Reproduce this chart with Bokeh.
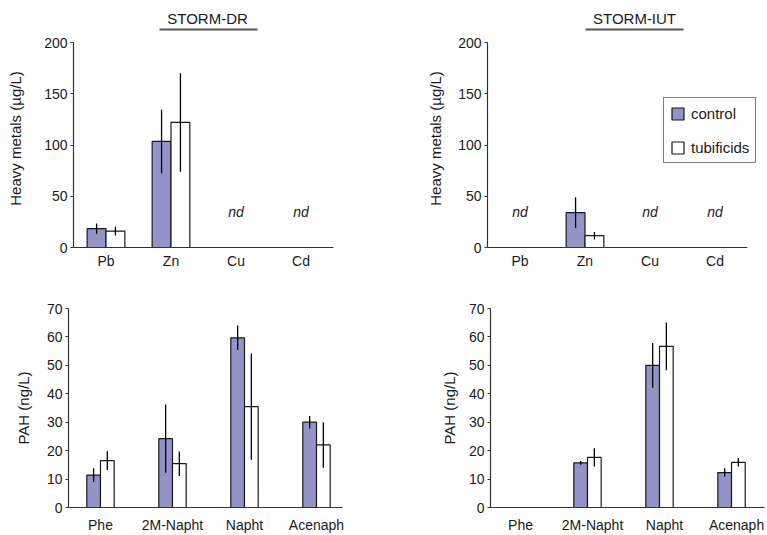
from bokeh.plotting import figure
from bokeh.models import (ColumnDataSource, Range1d, FixedTicker, LinearAxis,
                          Legend, LegendItem)
from bokeh.layouts import column, row
from bokeh.embed import file_html
from bokeh.resources import INLINE
from bokeh.core.properties import value

# ---------------- data ----------------
metals = ["Pb", "Zn", "Cu", "Cd"]
pahs = ["Phe", "2M-Napht", "Napht", "Acenaph"]
series_names = ["control", "tubificids"]

dr_metal_control = [18.5, 103.5, None, None]
dr_metal_control_err = [5.0, 31.0, None, None]
dr_metal_tub = [16.0, 122.0, None, None]
dr_metal_tub_err = [4.3, 48.0, None, None]
dr_metal_nd = ["Cu", "Cd"]

iut_metal_control = [None, 34.0, None, None]
iut_metal_control_err = [None, 15.0, None, None]
iut_metal_tub = [None, 11.5, None, None]
iut_metal_tub_err = [None, 3.7, None, None]
iut_metal_nd = ["Pb", "Cu", "Cd"]

dr_pah_control = [11.4, 24.2, 59.7, 30.0]
dr_pah_control_err = [2.4, 12.0, 4.3, 2.2]
dr_pah_tub = [16.5, 15.4, 35.5, 22.0]
dr_pah_tub_err = [3.3, 4.3, 18.7, 8.0]

iut_pah_control = [None, 15.7, 50.0, 12.3]
iut_pah_control_err = [None, 0.7, 7.9, 1.5]
iut_pah_tub = [None, 17.6, 56.7, 15.9]
iut_pah_tub_err = [None, 3.2, 8.4, 1.5]

metal_ticks = [0, 50, 100, 150, 200]
pah_ticks = [0, 10, 20, 30, 40, 50, 60, 70]

site_titles = ["STORM-DR", "STORM-IUT"]
metal_label = "Heavy metals (µg/L)"
pah_label = "PAH (ng/L)"

# ---------------- style ----------------
FONT = "Liberation Sans"
CTRL_FILL = "#9393C8"
BAR_LINE = "#1a1a1a"
AXIS_COL = "#333333"
TEXT_COL = "#1a1a1a"


def src_for(vals, errs, offset):
    xs, tops, lo, hi = [], [], [], []
    for i, (v, e) in enumerate(zip(vals, errs)):
        if v is None:
            continue
        xs.append(i + offset)
        tops.append(v)
        lo.append(v - e)
        hi.append(v + e)
    return ColumnDataSource(dict(x=xs, top=tops, lo=lo, hi=hi))


def panel(cats, ctrl, ctrl_err, tub, tub_err, ticks, ylabel, *, width, height,
          borders, xr, yend, bar_w, label_standoff, xlabel_standoff,
          label_shift=0.0, nd=None, nd_y=35, title=None, title_x=None,
          title_bounds=None, legend_loc=None):
    bl, br, bt, bb = borders
    p = figure(width=width, height=height, x_range=Range1d(*xr),
               y_range=Range1d(0, yend), output_backend="svg",
               toolbar_location=None, min_border_left=bl, min_border_right=br,
               min_border_top=bt, min_border_bottom=bb)
    p.outline_line_color = None
    p.xgrid.visible = False
    p.ygrid.visible = False
    p.background_fill_color = "white"
    p.border_fill_color = "white"

    s_c = src_for(ctrl, ctrl_err, -bar_w / 2)
    s_t = src_for(tub, tub_err, bar_w / 2)
    r_c = p.vbar(x="x", top="top", bottom=0, width=bar_w, source=s_c,
                 fill_color=CTRL_FILL, line_color=BAR_LINE, line_width=1.2)
    r_t = p.vbar(x="x", top="top", bottom=0, width=bar_w, source=s_t,
                 fill_color="white", line_color=BAR_LINE, line_width=1.2)
    for s in (s_c, s_t):
        p.segment(x0="x", y0="lo", x1="x", y1="hi", source=s,
                  line_color="black", line_width=1.3)

    if nd:
        p.text(x=[cats.index(c) for c in nd], y=[nd_y] * len(nd),
               text=["nd"] * len(nd), text_font=value(FONT),
               text_font_size="14px", text_font_style="italic",
               text_align="center", text_baseline="middle",
               text_color=TEXT_COL)

    # x axis
    xa = p.xaxis[0]
    tick_pos = [i + label_shift for i in range(len(cats))]
    xa.ticker = FixedTicker(ticks=tick_pos)
    xa.major_label_overrides = {t: c for t, c in zip(tick_pos, cats)}
    n = len(cats)
    xa.bounds = (-0.5, n - 0.5) if legend_loc is not None else (xr[0], xr[1])
    xa.major_tick_out = 0
    xa.major_tick_in = 0
    xa.minor_tick_out = 0
    xa.minor_tick_in = 0
    xa.axis_line_color = AXIS_COL
    xa.axis_line_width = 1.2
    xa.major_label_standoff = xlabel_standoff
    xa.major_label_text_font = FONT
    xa.major_label_text_font_size = "14px"
    xa.major_label_text_color = TEXT_COL

    # y axis
    ya = p.yaxis[0]
    ya.ticker = FixedTicker(ticks=ticks)
    ya.bounds = (0, ticks[-1])
    ya.major_tick_out = 3
    ya.major_tick_in = 0
    ya.minor_tick_out = 0
    ya.minor_tick_in = 0
    ya.axis_line_color = AXIS_COL
    ya.axis_line_width = 1.2
    ya.major_tick_line_color = AXIS_COL
    ya.major_label_standoff = 3
    ya.major_label_text_font = FONT
    ya.major_label_text_font_size = "14px"
    ya.major_label_text_color = TEXT_COL
    ya.axis_label = ylabel
    ya.axis_label_text_font = FONT
    ya.axis_label_text_font_size = "15px"
    ya.axis_label_text_font_style = "normal"
    ya.axis_label_text_color = TEXT_COL
    ya.axis_label_standoff = label_standoff

    if title:
        ta = LinearAxis(ticker=FixedTicker(ticks=[title_x]),
                        major_label_overrides={title_x: title},
                        bounds=title_bounds,
                        major_tick_out=0, major_tick_in=0,
                        minor_tick_out=0, minor_tick_in=0,
                        axis_line_width=2, axis_line_color="#555555",
                        major_label_standoff=3,
                        major_label_text_font=FONT,
                        major_label_text_font_size="15px",
                        major_label_text_color=TEXT_COL)
        p.add_layout(ta, "above")

    if legend_loc is not None:
        leg = Legend(items=[LegendItem(label=series_names[0], renderers=[r_c]),
                            LegendItem(label=series_names[1], renderers=[r_t])],
                     location=legend_loc, orientation="vertical",
                     glyph_width=15, glyph_height=15, label_height=18,
                     label_standoff=6, padding=6, spacing=16, margin=0,
                     label_text_font=FONT, label_text_font_size="15px",
                     label_text_color=TEXT_COL,
                     border_line_color="black", border_line_width=1.2,
                     background_fill_color="white", background_fill_alpha=1)
        p.add_layout(leg)
    return p


tl = panel(metals, dr_metal_control, dr_metal_control_err, dr_metal_tub,
           dr_metal_tub_err, metal_ticks, metal_label,
           width=383, height=272, borders=(73, 50, 29, 25),
           xr=(-0.5, 3.5), yend=212.7, bar_w=0.29, label_standoff=17,
           xlabel_standoff=5, nd=dr_metal_nd,
           title=site_titles[0], title_x=1.562, title_bounds=(0.823, 2.331))

tr = panel(metals, iut_metal_control, iut_metal_control_err, iut_metal_tub,
           iut_metal_tub_err, metal_ticks, metal_label,
           width=384, height=272, borders=(104, 10, 29, 25),
           xr=(-0.5, 3.654), yend=212.7, bar_w=0.29, label_standoff=11,
           xlabel_standoff=5, nd=iut_metal_nd,
           title=site_titles[1], title_x=1.762, title_bounds=(1.008, 2.515),
           legend_loc=(176, 84))

bl = panel(pahs, dr_pah_control, dr_pah_control_err, dr_pah_tub,
           dr_pah_tub_err, pah_ticks, pah_label,
           width=383, height=263, borders=(68, 41, 36, 26),
           xr=(-0.444, 3.361), yend=70, bar_w=0.19, label_standoff=12,
           xlabel_standoff=9)

br = panel(pahs, iut_pah_control, iut_pah_control_err, iut_pah_tub,
           iut_pah_tub_err, pah_ticks, pah_label,
           width=384, height=263, borders=(107, 3, 36, 26),
           xr=(-0.347, 3.458), yend=70, bar_w=0.19, label_standoff=8,
           xlabel_standoff=9, label_shift=0.07)

layout = column(row(tl, tr), row(bl, br))
open("out.html", "w").write(file_html(layout, INLINE))
